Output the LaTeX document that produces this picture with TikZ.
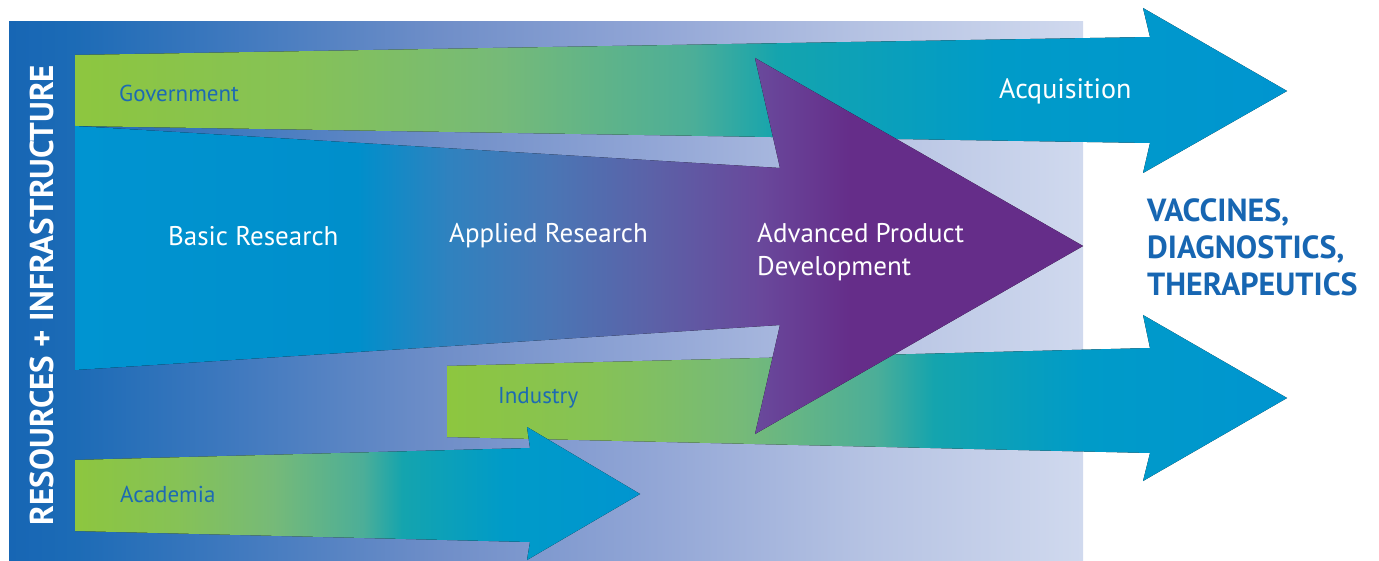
\documentclass[tikz,border=0pt]{standalone}
\usepackage{fontspec}
\setmainfont{PT Sans}
\usetikzlibrary{positioning}
\definecolor{labelblue}{HTML}{1D6AB3}
\definecolor{outblue}{HTML}{1766B2}
% background colours
\definecolor{bgA}{HTML}{1766B4}
\definecolor{bgB}{HTML}{1C6BB6}
\definecolor{bgC}{HTML}{3D78BE}
\definecolor{bgD}{HTML}{6F8EC8}
\definecolor{bgE}{HTML}{92A6D6}
\definecolor{bgF}{HTML}{B6C3E3}
\definecolor{bgG}{HTML}{D0D9EE}
% green to blue arrows
\definecolor{gbA}{HTML}{8DC63F}
\definecolor{gbB}{HTML}{86C256}
\definecolor{gbC}{HTML}{76BA78}
\definecolor{gbD}{HTML}{4CAE98}
\definecolor{gbE}{HTML}{14A4AE}
\definecolor{gbF}{HTML}{009BC8}
\definecolor{gbG}{HTML}{0095D0}
% blue to purple arrow
\definecolor{bpA}{HTML}{0094D1}
\definecolor{bpB}{HTML}{008FCB}
\definecolor{bpC}{HTML}{2F82BF}
\definecolor{bpD}{HTML}{4A76B5}
\definecolor{bpE}{HTML}{5B62A8}
\definecolor{bpF}{HTML}{69489B}
\definecolor{bpG}{HTML}{652D89}
\pgfdeclarehorizontalshading{bgshade}{100bp}{color(0bp)=(bgA); color(25bp)=(bgA); color(28bp)=(bgB); color(35bp)=(bgC); color(45bp)=(bgD); color(55bp)=(bgE); color(65bp)=(bgF); color(75bp)=(bgG); color(100bp)=(bgG)}
\pgfdeclarehorizontalshading{greenblue}{100bp}{color(0bp)=(gbA); color(25bp)=(gbA); color(34bp)=(gbB); color(42.5bp)=(gbC); color(50.5bp)=(gbD); color(54bp)=(gbE); color(63bp)=(gbF); color(75bp)=(gbG); color(100bp)=(gbG)}
\pgfdeclarehorizontalshading{bluepurple}{100bp}{color(0bp)=(bpA); color(25bp)=(bpA); color(39bp)=(bpB); color(43.5bp)=(bpC); color(48.5bp)=(bpD); color(53.5bp)=(bpE); color(59bp)=(bpF); color(63.5bp)=(bpG); color(100bp)=(bpG)}
\tikzset{
  bluelbl/.style={text=labelblue,inner sep=0pt,font=\fontsize{23}{27}\selectfont},
  whitelbl/.style={text=white,inner sep=0pt,font=\fontsize{27}{33}\selectfont},
  outlbl/.style={text=outblue,inner sep=0pt,align=left,font=\bfseries\fontsize{32}{37}\selectfont},
}
\begin{document}
\begin{tikzpicture}[x=1pt,y=-1pt]
\useasboundingbox (0,0) rectangle (1379,561);
% background panel
\fill[shading=bgshade] (9,22) rectangle (1083,561);
% arrows
\fill[shading=greenblue] (75,55)--(1150,37)--(1143,8)--(1287,91)--(1143,173)--(1150,143)--(75,126)--cycle;
\fill[shading=greenblue] (447,366)--(1150,348)--(1143,315)--(1287,398)--(1143,481)--(1150,453)--(447,437)--cycle;
\fill[shading=greenblue] (75,460)--(530,448)--(527,427)--(640,494)--(527,560)--(530,542)--(75,531)--cycle;
\fill[shading=bluepurple] (75,126)--(780,168)--(755,58)--(1083,246)--(755,434)--(780,325)--(75,370)--cycle;
% labels
\node[text=white,inner sep=0pt,rotate=90,font=\bfseries\fontsize{33}{38}\selectfont] (res) at (42,295) {RESOURCES + INFRASTRUCTURE};
\node[bluelbl,anchor=west] (gov) at (119,93) {Government};
\node[bluelbl,anchor=west] (ind) at (498,398) {Industry};
\node[bluelbl,anchor=west] (acad) at (120,494) {Academia};
\node[whitelbl,anchor=west] (basic) at (168,236) {Basic Research};
\node[whitelbl,anchor=west] (applied) at (449,236) {Applied Research};
\node[whitelbl,anchor=west,align=left] (adv) at (757,252) {Advanced Product\\Development};
\node[whitelbl,anchor=west,font=\fontsize{28}{33}\selectfont] (acq) at (999,91) {Acquisition};
\node[outlbl,anchor=west] (vdt) at (1147,247) {VACCINES,\\DIAGNOSTICS,\\THERAPEUTICS};
\end{tikzpicture}
\end{document}
